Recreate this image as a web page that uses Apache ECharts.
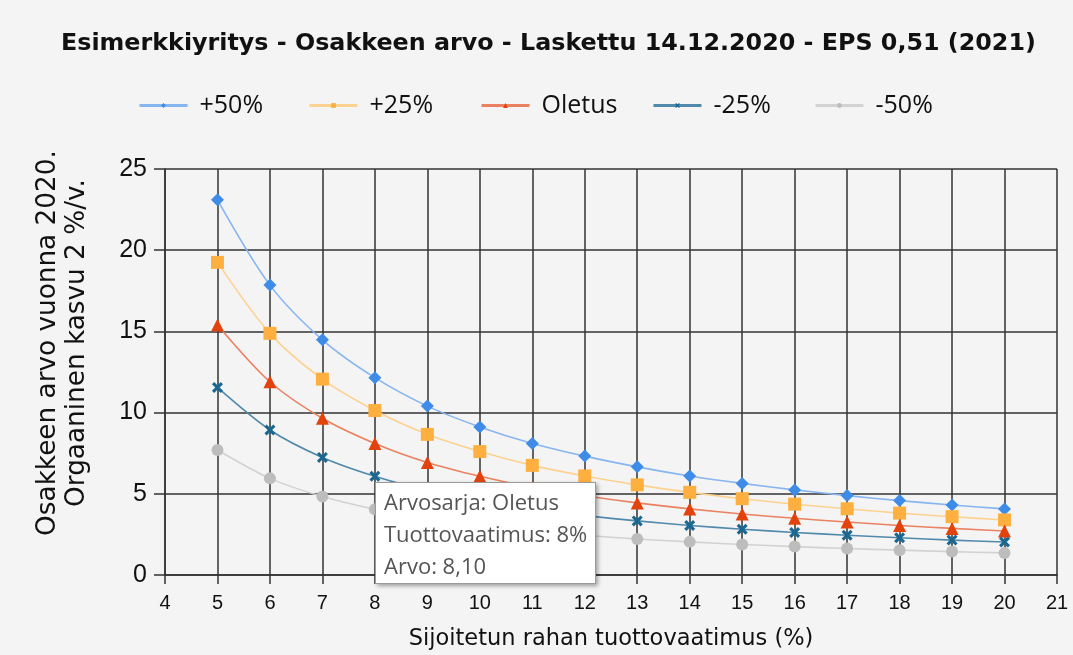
<!DOCTYPE html>
<html>
<head>
<meta charset="utf-8">
<script src="https://cdn.jsdelivr.net/npm/echarts@6/dist/echarts.min.js"></script>
<style>
  html, body { margin: 0; padding: 0; background: #f4f4f4; }
  #chart { width: 1073px; height: 655px; }
</style>
</head>
<body>
<div id="chart"></div>
<script>
// tuottovaatimus (%)
var tuotto = [5, 6, 7, 8, 9, 10, 11, 12, 13, 14, 15, 16, 17, 18, 19, 20];

// osakkeen arvo eri skenaarioissa (luettu kuvasta)
var plus50  = [23.1, 17.85, 14.48, 12.15, 10.4, 9.12, 8.1, 7.32, 6.66, 6.1, 5.64, 5.24, 4.89, 4.58, 4.31, 4.07];
var plus25  = [19.25, 14.88, 12.06, 10.13, 8.66, 7.6, 6.75, 6.1, 5.55, 5.09, 4.7, 4.36, 4.08, 3.81, 3.59, 3.39];
var oletus  = [15.4, 11.9, 9.65, 8.10, 6.93, 6.08, 5.4, 4.88, 4.44, 4.07, 3.76, 3.49, 3.26, 3.05, 2.87, 2.71];
var minus25 = [11.55, 8.93, 7.24, 6.08, 5.2, 4.56, 4.05, 3.66, 3.33, 3.05, 2.82, 2.62, 2.45, 2.29, 2.15, 2.03];
var minus50 = [7.7, 5.95, 4.83, 4.05, 3.47, 3.04, 2.7, 2.44, 2.22, 2.04, 1.88, 1.75, 1.63, 1.53, 1.44, 1.36];

var nimet = ['+50%', '+25%', 'Oletus', '-25%', '-50%'];

var myChart = echarts.init(document.getElementById('chart'));

// yhdistetään x ja y pareiksi
function parit(arr) {
  return arr.map(function (v, i) { return [tuotto[i], v]; });
}

var ristiSymboli = 'path://M0,2 L2,0 L5,3 L8,0 L10,2 L7,5 L10,8 L8,10 L5,7 L2,10 L0,8 L3,5 Z';

function sarja(nimi, data, merkki, vari, viiva, koko) {
  return {
    name: nimi,
    type: 'line',
    smooth: 0.3,
    data: parit(data),
    symbol: merkki,
    symbolSize: koko,
    showAllSymbol: true,
    itemStyle: { color: vari },
    lineStyle: { color: viiva, width: 1.6 },
    emphasis: { disabled: true }
  };
}

// jokainen selite omana komponenttinaan, jotta välit saadaan kohdalleen
var seliteX = [133, 303, 475, 647, 809];
var selitteet = nimet.map(function (n, i) {
  return {
    data: [n],
    top: 88,
    left: seliteX[i],
    itemWidth: 48,
    itemHeight: 6,
    textStyle: { fontFamily: 'Open Sans', fontSize: 25, color: '#111', padding: [0, 0, 0, 7] },
    lineStyle: { width: 3 }
  };
});

var option = {
  backgroundColor: '#f4f4f4',
  animation: false,
  title: {
    text: 'Esimerkkiyritys - Osakkeen arvo - Laskettu 14.12.2020 - EPS 0,51 (2021)',
    left: 56,
    top: 27,
    textStyle: { fontFamily: 'DejaVu Sans', fontWeight: 'bold', fontSize: 23.8, color: '#111' }
  },
  legend: selitteet,
  tooltip: {
    trigger: 'item',
    triggerOn: 'none',
    alwaysShowContent: true,
    transitionDuration: 0,
    position: [375, 482],
    backgroundColor: '#ffffff',
    borderColor: '#9a9a9a',
    borderWidth: 1,
    padding: [2, 8],
    extraCssText: 'box-shadow: 2px 2px 4px rgba(0,0,0,0.35); border-radius: 0;',
    textStyle: { fontFamily: 'Open Sans', fontSize: 22, color: '#555', lineHeight: 32 },
    formatter: function (p) {
      return 'Arvosarja: ' + p.seriesName + '<br/>' +
        'Tuottovaatimus: ' + p.value[0] + '%<br/>' +
        'Arvo: ' + p.value[1].toFixed(2).replace('.', ',');
    }
  },
  grid: { left: 165, right: 16, top: 169, bottom: 80, outerBoundsMode: 'none' },
  xAxis: {
    type: 'value',
    min: 4,
    max: 21,
    interval: 1,
    name: 'Sijoitetun rahan tuottovaatimus (%)',
    nameLocation: 'middle',
    nameGap: 53,
    nameTextStyle: { fontFamily: 'DejaVu Sans', fontSize: 22.5, color: '#111' },
    axisLine: { show: true, lineStyle: { color: '#333', width: 1.5 } },
    axisTick: { show: true, length: 9, lineStyle: { color: '#333', width: 1.5 } },
    axisLabel: { margin: 18, fontFamily: 'Liberation Sans Narrow, Liberation Sans', fontSize: 20, color: '#111' },
    splitLine: { show: true, lineStyle: { color: '#333', width: 1.5 } }
  },
  yAxis: {
    type: 'value',
    min: 0,
    max: 25,
    interval: 5,
    axisLine: { show: true, lineStyle: { color: '#333', width: 1.5 } },
    axisTick: { show: true, length: 11, lineStyle: { color: '#333', width: 1.5 } },
    axisLabel: { margin: 18, fontFamily: 'Liberation Sans', fontSize: 25, color: '#111' },
    splitLine: { show: true, lineStyle: { color: '#333', width: 1.5 } }
  },
  graphic: [{
    type: 'text',
    x: 63,
    y: 343,
    rotation: Math.PI / 2,
    style: {
      text: 'Osakkeen arvo vuonna 2020.\nOrgaaninen kasvu 2 %/v.',
      fontFamily: 'DejaVu Sans',
      fontSize: 26.3,
      lineHeight: 29,
      fill: '#111',
      align: 'center',
      verticalAlign: 'middle'
    }
  }],
  series: [
    sarja('+50%', plus50, 'diamond', '#3f8ce8', '#86b5f0', 13),
    sarja('+25%', plus25, 'rect', '#fdb03f', '#fdd291', 13),
    sarja('Oletus', oletus, 'triangle', '#e2430c', '#ea8160', 13),
    sarja('-25%', minus25, ristiSymboli, '#1a6891', '#5089ab', 11),
    sarja('-50%', minus50, 'circle', '#bdbdbd', '#d2d2d2', 12)
  ]
};

myChart.setOption(option);
myChart.dispatchAction({ type: 'showTip', seriesIndex: 2, dataIndex: 3 });
</script>
</body>
</html>
